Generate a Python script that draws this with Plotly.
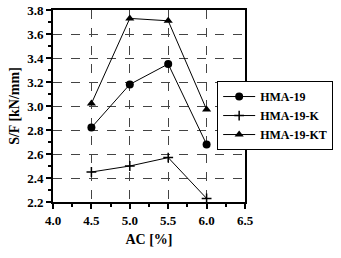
import plotly.graph_objects as go

ac = [4.5, 5.0, 5.5, 6.0]
hma19 = [2.82, 3.18, 3.35, 2.68]
hma19_k = [2.45, 2.50, 2.57, 2.23]
hma19_kt = [3.02, 3.73, 3.71, 2.97]
names = ["HMA-19", "HMA-19-K", "HMA-19-KT"]
x_ticks = [4.0, 4.5, 5.0, 5.5, 6.0, 6.5]
y_ticks = [2.2, 2.4, 2.6, 2.8, 3.0, 3.2, 3.4, 3.6, 3.8]

font = "Liberation Serif, Times New Roman, serif"
fig = go.Figure()
fig.add_trace(go.Scatter(x=ac, y=hma19, name=names[0], mode="lines+markers",
                         line=dict(color="black", width=1),
                         marker=dict(symbol="circle", size=8, color="black")))
fig.add_trace(go.Scatter(x=ac, y=hma19_k, name=names[1], mode="lines+markers",
                         line=dict(color="black", width=1),
                         marker=dict(symbol="cross-thin", size=7, color="black",
                                     line=dict(color="black", width=1.5))))
fig.add_trace(go.Scatter(x=ac, y=hma19_kt, name=names[2], mode="lines+markers",
                         line=dict(color="black", width=1),
                         marker=dict(symbol="triangle-up", size=8, color="black")))

axis_common = dict(
    showline=True, linecolor="black", linewidth=2, mirror=True,
    ticks="outside", ticklen=5, tickwidth=1.5, tickcolor="black",
    showgrid=True, gridcolor="#444", griddash="dash", gridwidth=1,
    zeroline=False, automargin=False,
    tickfont=dict(family=font, size=13, color="black", weight="bold"),
)
fig.update_xaxes(range=[4.0, 6.5], tickvals=x_ticks,
                 ticktext=[f"{v:.1f}" for v in x_ticks],
                 minor=dict(dtick=0.25, ticks="outside", ticklen=3, tickcolor="black", showgrid=False),
                 title=dict(text="AC [%]", font=dict(family=font, size=14, color="black", weight="bold"), standoff=8),
                 **axis_common)
fig.update_yaxes(range=[2.2, 3.8], tickvals=y_ticks,
                 ticktext=[f"{v:.1f}" for v in y_ticks],
                 minor=dict(dtick=0.1, ticks="outside", ticklen=3, tickcolor="black", showgrid=False),
                 title=dict(text="S/F [kN/mm]", font=dict(family=font, size=14, color="black", weight="bold"), standoff=4),
                 **axis_common)

fig.update_layout(
    width=341, height=258,
    margin=dict(l=53, r=96, t=10, b=56, autoexpand=False),
    paper_bgcolor="white", plot_bgcolor="white",
    showlegend=True,
    legend=dict(x=0.855, y=0.63, xanchor="left", yanchor="top",
                bgcolor="white", bordercolor="black", borderwidth=1,
                font=dict(family=font, size=12, color="black", weight="bold"),
                tracegroupgap=0, itemwidth=32),
)
fig.write_html("out.html", config={"displayModeBar": False},
               post_script="document.body.style.margin='0';")
